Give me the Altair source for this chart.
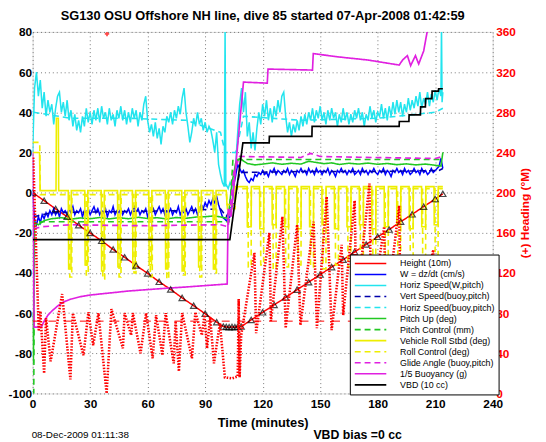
import altair as alt
import pandas as pd

FONT = "Liberation Sans"

title_text = "SG130 OSU Offshore NH line, dive 85 started 07-Apr-2008 01:42:59"
stamp_text = ["08-Dec-2009 01:11:38"]
bias_text = ["VBD bias =0 cc"]

series_names = ["Height (10m)", "W = dz/dt (cm/s)", "Horiz Speed(W,pitch)",
                "Vert Speed(buoy,pitch)", "Horiz Speed(buoy,pitch)", "Pitch Up (deg)",
                "Pitch Control (mm)", "Vehicle Roll Stbd (deg)", "Roll Control (deg)",
                "Glide Angle (buoy,pitch)", "1/5 Buoyancy (g)", "VBD (10 cc)"]
series_colors = ["#FF0000", "#0000FF", "#22E4EE", "#0000AA", "#22E4EE", "#22C822",
                 "#22C822", "#EEEE00", "#EEEE00", "#E020E0", "#E020E0", "#000000"]
series_dashes = [[1, 0], [1, 0], [1, 0], [6, 4], [6, 4], [1, 0],
                 [6, 4], [1, 0], [6, 4], [6, 4], [1, 0], [1, 0]]
series_widths = [1.5, 1.7, 1.1, 1.2, 1.2, 1.3, 1.2, 1.3, 1.2, 1.2, 1.2, 1.4]

x_ticks = [0, 30, 60, 90, 120, 150, 180, 210, 240]
y_ticks = [-100, -90, -80, -70, -60, -50, -40, -30, -20, -10, 0, 10, 20, 30, 40, 50, 60, 70, 80]
h_ticks = [0, 20, 40, 60, 80, 100, 120, 140, 160, 180, 200, 220, 240, 260, 280, 300, 320, 340, 360]

# depth (10 m)
depth_t = [0, 6, 12, 18, 24, 30, 36, 42, 48, 54, 60, 66, 72, 78, 84, 90, 96, 99.5, 101, 102.5,
           104, 105.5, 107, 108.8, 114, 120, 126, 132, 138, 144, 150, 156, 162, 168, 174, 180,
           186, 192, 198, 204, 210, 214]
depth_v = [0, -4.0, -8.1, -12.0, -16.2, -20.1, -24.0, -28.3, -32.2, -36.3, -40.2, -44.4, -48.2,
           -52.4, -56.3, -60.3, -64.5, -66.7, -66.9, -67.0, -66.9, -67.0, -66.8, -66.7, -63.4,
           -59.6, -55.9, -52.2, -48.3, -44.6, -40.8, -37.1, -33.4, -29.5, -25.8, -22.0, -18.4,
           -14.5, -10.8, -7.0, -3.2, -0.6]

# W = dz/dt, one value per minute 0..214
w_t = list(range(0, 215))
w_v = [0, -14, -16, -12, -15, -11, -13, -10, -12, -9,
       -11, -8, -11, -9, -12, -8, -10, -9, -11, -8,
       -10, -7, -11, -9, -10, -8, -12, -9, -10, -8,
       -11, -9, -7, -10, -8, -11, -9, -10, -8, -12,
       -9, -10, -7, -11, -9, -10, -8, -11, -9, -10,
       -8, -11, -9, -7, -10, -8, -11, -9, -10, -8,
       -12, -9, -10, -8, -11, -9, -7, -10, -8, -11,
       -9, -10, -8, -11, -9, -10, -7, -11, -9, -10,
       -8, -11, -9, -7, -10, -8, -11, -9, -6, -8,
       -5, -7, -4, -6, -3, -5, -2, -6, -9, -12,
       -13,
       -14, -13, -12, -6, 4, 9, 14, 12, 10, 11,
       8, 6, 5, 7, 6, 9, 8, 10, 9, 11,
       9, 10, 8, 11, 10, 12, 9, 11, 10, 9,
       11, 10, 12, 9, 11, 10, 8, 11, 10, 12,
       10, 11, 9, 12, 10, 11, 9, 12, 10, 11,
       9, 11, 10, 12, 9, 11, 10, 8, 11, 10,
       12, 10, 11, 9, 11, 10, 12, 9, 10, 11,
       9, 12, 10, 11, 9, 11, 10, 12, 10, 9,
       11, 10, 12, 9, 11, 10, 8, 11, 10, 12,
       10, 11, 9, 12, 10, 11, 9, 10, 12, 10,
       11, 9, 12, 10, 11, 9, 10, 12, 10, 11,
       12, 13, 17, 12]

# Horiz speed (W, pitch)
hs_t = list(range(0, 101)) + [100.4, 100.8] + list(range(101, 214)) + [213.3, 213.6, 214]
hs_v = [20, 52, 60, 48, 56, 42, 50, 38, 46, 40,
        44, 34, 42, 48, 50, 40, 45, 38, 46, 36,
        41, 33, 39, 31, 36, 30, 38, 33, 42, 35,
        40, 34, 41, 36, 42, 35, 43, 37, 40, 34,
        42, 36, 39, 33, 41, 37, 43, 36, 41, 34,
        40, 35, 42, 37, 41, 33, 40, 36, 44, 48,
        36, 30, 34, 28, 35, 27, 32, 24, 33, 30,
        38, 35, 40, 34, 41, 37, 43, 39, 47, 52,
        40, 33, 25, 30, 37, 33, 40, 34, 37, 31,
        35, 30, 33, 31, 26, 20, 30, 14, 9, 5,
        3,
        82, 3,
        4, 2, 5, 3, 6, 15, 30, 44, 52, 40,
        50, 28, 35, 22, 30, 21, 32, 40, 34, 44,
        38, 46, 36, 42, 35, 43, 38, 46, 40, 48,
        50, 38, 30, 35, 28, 34, 30, 36, 31, 38,
        33, 39, 34, 40, 36, 42, 35, 41, 37, 43,
        36, 40, 34, 41, 36, 42, 37, 40, 33, 39,
        35, 42, 36, 40, 34, 39, 35, 41, 37, 42,
        36, 40, 33, 39, 36, 43, 37, 41, 35, 40,
        38, 44, 37, 42, 36, 43, 38, 45, 39, 46,
        40, 45, 38, 44, 40, 47, 41, 46, 42, 48,
        43, 50, 42, 47, 44, 50, 43, 49, 45, 51,
        46, 52, 48,
        84, 45, 50]

vsb_t = [0.5, 10, 40, 80, 98, 101, 105, 108, 140, 180, 212, 214]
vsb_v = [-12, -10, -9.5, -9, -8, -12, -5, 10, 10.5, 10.5, 11, 12]

hsb_t = [0.5, 20, 50, 80, 98, 100.5, 106, 110, 140, 180, 210, 214]
hsb_v = [40, 37, 37, 36, 30, 20, 20, 38, 36, 37, 40, 42]

pitch_t = [0, 0.4, 0.9, 3, 6, 10, 15, 20, 25, 30, 35, 40, 45, 50, 55, 60, 65, 70, 75, 80,
           85, 90, 95, 100, 102, 104, 106, 108, 112, 116, 120, 125, 130, 135, 140, 144, 148,
           152, 156, 160, 165, 170, 175, 180, 185, 190, 195, 200, 205, 210, 213, 214]
pitch_v = [-60, -85, -15, -16, -14, -13, -12.5, -13.2, -12.6, -13, -12.4, -13.1, -12.5, -13,
           -12.3, -12.9, -12.5, -13.1, -12.4, -12.8, -12.2, -12, -11.6, -12.5, -12.8, 5, 15,
           17, 14.5, 13.8, 14.2, 14.8, 14.1, 14.6, 14.2, 15.6, 15.0, 14.4, 14.8, 14.0, 14.6,
           14.2, 14.7, 14.1, 14.5, 13.9, 14.3, 13.8, 14.2, 13.6, 13.2, 20]

pc_t = [0, 0.6, 1.0, 102.5, 104.5, 214]
pc_v = [-100, -100, -14.5, -14.5, 16.5, 16.5]

roll_t = [0, 3.6, 3.9, 12.2, 12.4, 13.4, 13.6,
          18.6, 18.8, 20.0, 20.2,
          27.2, 27.4, 28.6, 28.8,
          35.8, 36.0, 37.2, 37.4,
          44.3, 44.5, 45.7, 45.9,
          52.1, 52.3, 53.5, 53.7,
          60.6, 60.8, 62.0, 62.2,
          69.2, 69.4, 70.6, 70.8,
          77.8, 78.0, 79.2, 79.4,
          86.4, 86.6, 87.8, 88.0,
          94.1, 94.3, 95.5, 95.7,
          101.0, 101.4, 105.4, 105.8,
          111.9, 112.0, 114.0, 114.1,
          118.4, 118.5, 120.5, 120.6,
          124.9, 125.0, 127.0, 127.1,
          131.4, 131.5, 133.5, 133.6,
          137.9, 138.0, 140.0, 140.1,
          144.4, 144.5, 146.5, 146.6,
          150.9, 151.0, 153.0, 153.1,
          157.4, 157.5, 159.5, 159.6,
          163.9, 164.0, 166.0, 166.1,
          170.4, 170.5, 172.5, 172.6,
          176.9, 177.0, 179.0, 179.1,
          183.4, 183.5, 185.5, 185.6,
          189.9, 190.0, 192.0, 192.1,
          196.4, 196.5, 198.5, 198.6,
          202.9, 203.0, 205.0, 205.1,
          209.4, 209.5, 211.5, 211.6,
          214.0]
roll_v = [20, 20, 1, 1, 37, 37, 1,
          1, -38, -38, 1,
          1, -36, -36, 1,
          1, -39, -39, 1,
          1, -37, -37, 1,
          1, -38, -38, 1,
          1, -36, -36, 1,
          1, -38, -38, 1,
          1, -39, -39, 1,
          1, -37, -37, 1,
          1, -38, -38, 1,
          1, -6, -6, 3,
          3, -17, -17, 3,
          3, -18, -18, 3,
          3, -16, -16, 3,
          3, -17, -17, 3,
          3, -18, -18, 3,
          3, -17, -17, 3,
          3, -16, -16, 3,
          3, -18, -18, 3,
          3, -17, -17, 3,
          3, -16, -16, 3,
          3, -18, -18, 3,
          3, -17, -17, 3,
          3, -16, -16, 3,
          3, -18, -18, 3,
          3, -17, -17, 3,
          3, -16, -16, 3,
          3]

rc_t = [0, 3.7, 4.0,
        19.3, 19.4, 20.4, 20.5,
        27.9, 28.0, 29.0, 29.1,
        36.5, 36.6, 37.6, 37.7,
        45.0, 45.1, 46.1, 46.2,
        52.8, 52.9, 53.9, 54.0,
        61.3, 61.4, 62.4, 62.5,
        69.9, 70.0, 71.0, 71.1,
        78.5, 78.6, 79.6, 79.7,
        87.1, 87.2, 88.2, 88.3,
        94.8, 94.9, 95.9, 96.0,
        101.2, 101.6, 105.6, 106.0,
        112.4, 112.5, 114.0, 114.1,
        118.9, 119.0, 120.5, 120.6,
        125.4, 125.5, 127.0, 127.1,
        131.9, 132.0, 133.5, 133.6,
        138.4, 138.5, 140.0, 140.1,
        144.9, 145.0, 146.5, 146.6,
        151.4, 151.5, 153.0, 153.1,
        157.9, 158.0, 159.5, 159.6,
        164.4, 164.5, 166.0, 166.1,
        170.9, 171.0, 172.5, 172.6,
        177.4, 177.5, 179.0, 179.1,
        183.9, 184.0, 185.5, 185.6,
        190.4, 190.5, 192.0, 192.1,
        196.9, 197.0, 198.5, 198.6,
        203.4, 203.5, 205.0, 205.1,
        209.9, 210.0, 211.5, 211.6,
        214.0]
rc_v = [25, 25, -1,
        -1, -42, -42, -1,
        -1, -41, -41, -1,
        -1, -43, -43, -1,
        -1, -42, -42, -1,
        -1, -40, -40, -1,
        -1, -42, -42, -1,
        -1, -43, -43, -1,
        -1, -41, -41, -1,
        -1, -42, -42, -1,
        -1, -40, -40, -1,
        -1, -8, -8, 2,
        2, -37, -37, 2,
        2, -36, -36, 2,
        2, -38, -38, 2,
        2, -37, -37, 2,
        2, -36, -36, 2,
        2, -37, -37, 2,
        2, -38, -38, 2,
        2, -36, -36, 2,
        2, -37, -37, 2,
        2, -38, -38, 2,
        2, -36, -36, 2,
        2, -37, -37, 2,
        2, -38, -38, 2,
        2, -36, -36, 2,
        2, -37, -37, 2,
        2, -36, -36, 2,
        2]

glide_t = [0.5, 5, 20, 40, 60, 80, 98, 102, 105, 108, 120, 140, 145, 150, 170, 190, 210, 214]
glide_v = [-18, -17, -16, -16.3, -16.5, -16.2, -16, -17, 10, 18, 17.8, 17.5, 19.5, 18, 17.6,
           17.3, 17, 18]

buoy_t = [0, 0.8, 4.5, 6, 8, 10, 13, 16, 20, 25, 30, 40, 50, 60, 70, 80, 90, 101.5, 102.0,
          103.5, 110.0, 122.4, 122.8, 146.0, 146.4, 160, 175, 191.2, 193.0, 195.5, 197.2,
          199.7, 201.4, 204.0, 205.8, 207.0]
buoy_v = [20, -67, -67, -64, -61, -59, -56.5, -54.5, -53, -51.8, -51, -50, -49, -48.3, -47.6,
          -47, -46.3, -45.5, -8, -12, 55, 54.5, 61.5, 61, 69.2, 67.5, 66, 63.5, 66, 68.2,
          63.2, 68.2, 64, 70.5, 80, 86]

vbd_t = [0, 102.9, 109.7, 123.4, 123.5, 145.7, 145.8, 191.2, 191.3, 196.3, 196.4, 202.3,
         202.4, 204.9, 205.0, 208.3, 208.4, 211.7, 211.8, 214.0]
vbd_v = [-23.4, -23.4, 24.8, 24.8, 28, 28, 33, 33, 35.4, 35.4, 38.7, 38.7, 42.7, 42.7,
         46.8, 46.8, 50.5, 50.5, 51.7, 51.7]

# heading (deg M), right axis
hd_t = [0.3, 3.2, 4.0, 6.0, 7.0, 9.4, 15.4, 19.7, 21.0, 26.5, 29.1, 31.6, 34.3, 38.6, 41.1,
        47.1, 48.0, 51.4, 52.3, 56.3, 59.2, 62.6, 64.4, 67.7, 69.4, 73.6, 74.6, 76.3, 78.0,
        83.1, 84.9, 88.3, 89.6, 91.0, 92.6, 94.6, 97.7, 100.3, 104.0, 107.0, 107.5, 108.0,
        108.8, 115.7, 116.6, 123.5, 124.3, 130.3, 132.0, 138.0, 139.7, 146.6, 148.3, 153.4,
        156.0, 161.2, 162.0, 168.0, 168.9, 175.7, 176.6, 183.4, 184.2, 191.2, 192.0, 200.0,
        200.8, 209.0, 209.6, 213.8]
hd_v = [235, 62, 82, 20, 75, 32, 99, 14, 80, 38, 81, 48, 80, 0, 84, 45, 80, 58, 80, 40, 80,
        35, 78, 38, 80, 30, 72, 22, 80, 35, 81, 58, 78, 45, 76, 30, 70, 16, 15, 17, 94, 16,
        58, 140, 60, 160, 72, 176, 65, 168, 68, 171, 65, 196, 63, 148, 78, 192, 84, 209, 80,
        166, 75, 187, 75, 125, 70, 143, 70, 110]
hd_ref_t = [0, 214]
hd_ref_v = [72, 72]
hd_spike_t = [38.8]
hd_spike_v = [358]

# ---------------- tables ----------------
all_series = [
    (series_names[0], depth_t, depth_v),
    (series_names[1], w_t, w_v),
    (series_names[2], hs_t, hs_v),
    (series_names[3], vsb_t, vsb_v),
    (series_names[4], hsb_t, hsb_v),
    (series_names[5], pitch_t, pitch_v),
    (series_names[6], pc_t, pc_v),
    (series_names[7], roll_t, roll_v),
    (series_names[8], rc_t, rc_v),
    (series_names[9], glide_t, glide_v),
    (series_names[10], buoy_t, buoy_v),
    (series_names[11], vbd_t, vbd_v),
]
rows = []
for name, ts, vs in all_series:
    assert len(ts) == len(vs), (name, len(ts), len(vs))
    for i, (t, v) in enumerate(zip(ts, vs)):
        rows.append({"t": t, "v": v, "series": name, "i": i})
df = pd.DataFrame(rows)
depth_df = pd.DataFrame({"t": depth_t, "v": depth_v})
hd_df = pd.DataFrame({"t": hd_t, "h": hd_v, "i": list(range(len(hd_t)))})
hd_ref_df = pd.DataFrame({"t": hd_ref_t, "h": hd_ref_v})
hd_spike_df = pd.DataFrame({"t": hd_spike_t, "h": hd_spike_v})

GRID = dict(grid=True, gridDash=[1, 3], gridColor="#555555", gridWidth=0.8)

x_enc = alt.X("t:Q", scale=alt.Scale(domain=[0, 240], nice=False, zero=False),
              axis=alt.Axis(values=x_ticks, title="Time (minutes)", labelFontSize=12,
                            labelFontWeight="bold", titleFontSize=13, titleFontWeight="bold",
                            ticks=False, domain=False, labelPadding=5, titlePadding=8,
                            labelFlush=False, **GRID))
y_scale = alt.Scale(domain=[-100, 80], nice=False, zero=False)
y_axis = alt.Axis(values=y_ticks, title=None, labelFontSize=12, labelFontWeight="bold",
                  ticks=False, domain=False, labelPadding=1,
                  labelExpr="replace(datum.label, '\u2212', '-')", **GRID)

leg = alt.Legend(orient="none", legendX=322, legendY=226, title=None,
                 symbolType="M-4,0H4", symbolSize=64, symbolStrokeWidth=1.5,
                 symbolOffset=12, labelOffset=25,
                 labelFontSize=9, labelFont=FONT,
                 strokeColor="black", fillColor="white", padding=4, rowPadding=1.2,
                 labelLimit=300)

lines = alt.Chart(df).mark_line(clip=True).encode(
    x=x_enc,
    y=alt.Y("v:Q", scale=y_scale, axis=y_axis),
    color=alt.Color("series:N", scale=alt.Scale(domain=series_names, range=series_colors),
                    legend=leg),
    strokeDash=alt.StrokeDash("series:N",
                              scale=alt.Scale(domain=series_names, range=series_dashes),
                              legend=leg),
    strokeWidth=alt.StrokeWidth("series:N",
                                scale=alt.Scale(domain=series_names, range=series_widths),
                                legend=None),
    order="i:Q",
)

depth_pts = alt.Chart(depth_df).mark_point(shape="triangle-up", filled=False, color="black",
                                           size=40, strokeWidth=1.2, clip=True).encode(
    x="t:Q", y=alt.Y("v:Q", scale=y_scale))

stamp = alt.Chart(pd.DataFrame({"s": stamp_text})).mark_text(
    align="left", baseline="middle", fontSize=10, font=FONT).encode(
    x=alt.value(-1), y=alt.value(409), text="s:N")
bias = alt.Chart(pd.DataFrame({"s": bias_text})).mark_text(
    align="left", baseline="middle", fontSize=12.5, fontWeight="bold", font=FONT).encode(
    x=alt.value(285), y=alt.value(409), text="s:N")

left = alt.layer(lines, depth_pts, stamp, bias)

h_scale = alt.Scale(domain=[0, 360], nice=False, zero=False)
h_axis = alt.Axis(orient="right", values=h_ticks, title="(+) Heading (\u00b0M)",
                  labelColor="#FF0000", titleColor="#FF0000", labelFontSize=12,
                  labelFontWeight="bold", titleFontSize=12, titleFontWeight="bold",
                  grid=False, ticks=False, domain=False, labelPadding=3, titlePadding=4,
                  titleAngle=270, titleBaseline="top")

hd_line = alt.Chart(hd_df).mark_line(color="#FF0000", strokeWidth=2.6, strokeDash=[1.5, 1.5],
                                     clip=True).encode(
    x="t:Q", y=alt.Y("h:Q", scale=h_scale, axis=h_axis), order="i:Q")
hd_ref = alt.Chart(hd_ref_df).mark_line(color="#FF0000", strokeWidth=1, strokeDash=[8, 8],
                                        clip=True).encode(
    x="t:Q", y=alt.Y("h:Q", scale=h_scale))
hd_spike = alt.Chart(hd_spike_df).mark_point(shape="cross", color="#FF0000", filled=True,
                                             size=20, clip=True).encode(
    x="t:Q", y=alt.Y("h:Q", scale=h_scale))

right = alt.layer(hd_ref, hd_line, hd_spike)

chart = alt.layer(left, right).resolve_scale(y="independent").properties(
    width=467, height=367,
    title=alt.TitleParams(title_text, fontSize=13, fontWeight="bold", font=FONT,
                          anchor="middle", offset=3, color="black", frame="group"),
    autosize="none",
    padding={"left": 25, "top": 21, "right": 46, "bottom": 46},
).configure_view(stroke="black", strokeWidth=1).configure_axis(
    labelFont=FONT, titleFont=FONT, labelColor="black", titleColor="black"
).configure(font=FONT, background="white")

chart.save("out.html", embed_options={"renderer": "svg", "actions": False})
